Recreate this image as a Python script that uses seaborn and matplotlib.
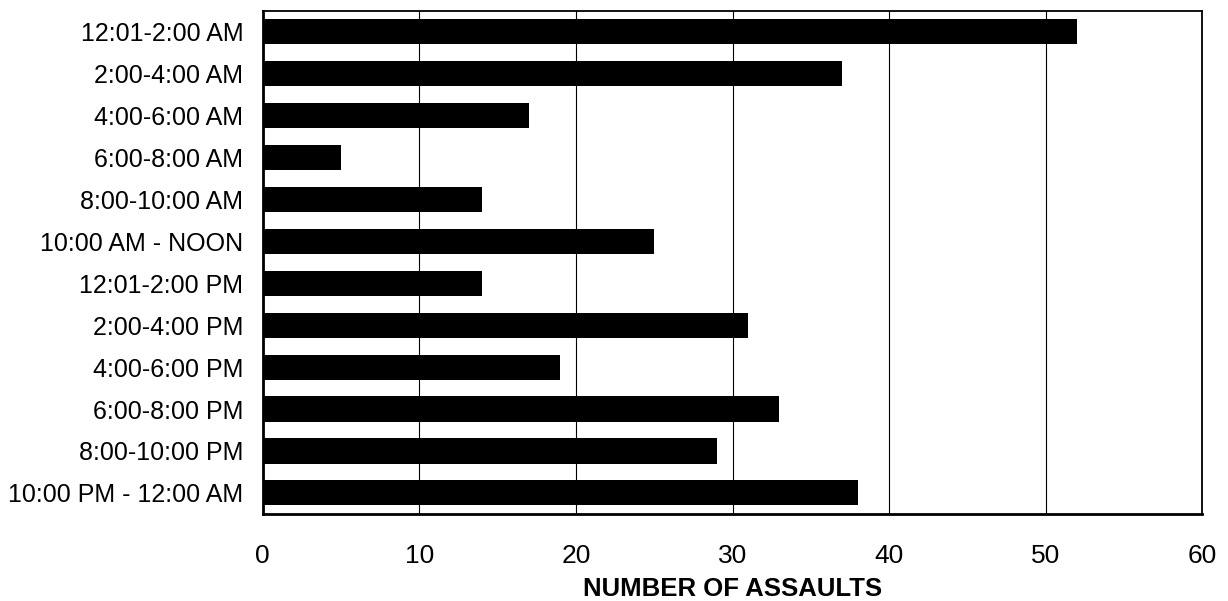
import matplotlib
matplotlib.use('Agg')
import matplotlib.pyplot as plt
import seaborn as sns
import pandas as pd

# Assaults by time of day
time_slots = ['12:01-2:00 AM', '2:00-4:00 AM', '4:00-6:00 AM', '6:00-8:00 AM',
              '8:00-10:00 AM', '10:00 AM - NOON', '12:01-2:00 PM', '2:00-4:00 PM',
              '4:00-6:00 PM', '6:00-8:00 PM', '8:00-10:00 PM', '10:00 PM - 12:00 AM']
assaults = [52, 37, 17, 5, 14, 25, 14, 31, 19, 33, 29, 38]
x_ticks = [0, 10, 20, 30, 40, 50, 60]

df = pd.DataFrame({'slot': time_slots, 'count': assaults})

sns.set_style('white')
plt.rcParams['font.family'] = ['Liberation Sans', 'DejaVu Sans']
plt.rcParams['text.color'] = 'black'
plt.rcParams['xtick.color'] = 'black'
plt.rcParams['ytick.color'] = 'black'
plt.rcParams['axes.labelcolor'] = 'black'

fig, ax = plt.subplots(figsize=(12.28, 6.01), dpi=100)
fig.subplots_adjust(left=0.214, right=0.979, top=0.982, bottom=0.145)

sns.barplot(data=df, x='count', y='slot', orient='h', color='black',
            width=0.6, saturation=1, linewidth=0, ax=ax, zorder=3)

ax.set_xlim(0, 60)
ax.set_ylim(len(time_slots) - 0.5, -0.5)
ax.set_xticks(x_ticks)
ax.xaxis.grid(True, color='black', linewidth=0.8, zorder=0)
ax.yaxis.grid(False)
ax.set_axisbelow(True)

for side in ['left', 'right', 'top', 'bottom']:
    ax.spines[side].set_visible(True)
    ax.spines[side].set_color('black')
    ax.spines[side].set_linewidth(1.3)
ax.spines['bottom'].set_linewidth(2)
ax.spines['left'].set_linewidth(2)

ax.tick_params(axis='y', length=0, pad=14, labelsize=18)
ax.tick_params(axis='x', length=0, pad=22, labelsize=19)

ax.set_ylabel('')
ax.set_xlabel('NUMBER OF ASSAULTS', fontsize=18.5, fontweight='bold', labelpad=6)

plt.savefig('out.png', dpi=100)
